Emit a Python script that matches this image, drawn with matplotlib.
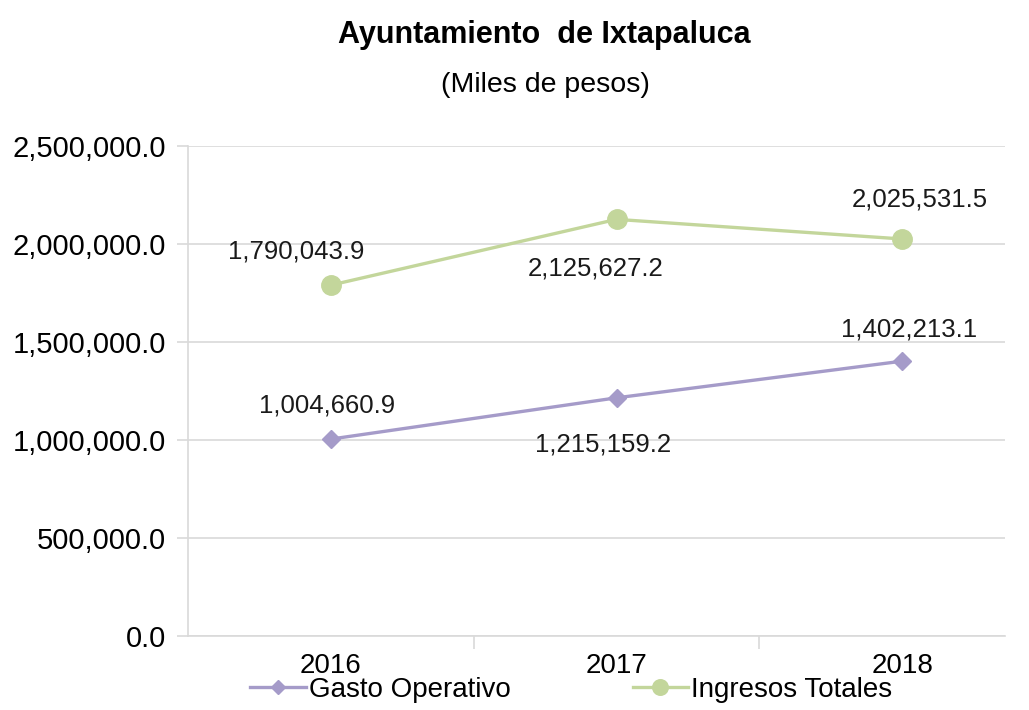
import numpy as np
import matplotlib.pyplot as plt
from matplotlib.ticker import FuncFormatter, FixedLocator

# ---------- DATA ----------
years = ["2016", "2017", "2018"]
gasto_operativo = [1004660.9, 1215159.2, 1402213.1]
ingresos_totales = [1790043.9, 2125627.2, 2025531.5]
# ---------------------------

# label offsets from the marker, in pixels (dx, dy)
gasto_lbl_off = [(-4, 34), (-13, -47), (7, 32)]
ingresos_lbl_off = [(-35, 34), (-21, -49), (18, 39)]

PURPLE = "#A59BC9"
GREEN = "#C3D69B"
GRID = "#D9D9D9"
FONT = "Liberation Sans"

plt.rcParams["font.family"] = [FONT, "DejaVu Sans"]

fig = plt.figure(figsize=(10.29, 7.10), dpi=100)
ax = fig.add_axes([0.1827, 0.1042, 0.7940, 0.6902])

x = np.arange(len(years))
ax.plot(x, gasto_operativo, color=PURPLE, lw=2.4, marker="D", ms=9,
        label="Gasto Operativo", zorder=3)
ax.plot(x, ingresos_totales, color=GREEN, lw=2.4, marker="o", ms=14,
        label="Ingresos Totales", zorder=3)

def fmt(v):
    return f"{v:,.1f}"

for xi, v, (dx, dy) in zip(x, gasto_operativo, gasto_lbl_off):
    ax.annotate(fmt(v), (xi, v), xytext=(dx, dy), textcoords="offset pixels",
                ha="center", va="center", fontsize=18.5, color="#1a1a1a")
for xi, v, (dx, dy) in zip(x, ingresos_totales, ingresos_lbl_off):
    ax.annotate(fmt(v), (xi, v), xytext=(dx, dy), textcoords="offset pixels",
                ha="center", va="center", fontsize=18.5, color="#1a1a1a")

ax.set_ylim(0, 2500000)
ax.set_xlim(-0.5, 2.36)
ax.set_yticks(np.arange(0, 2500001, 500000))
ax.yaxis.set_major_formatter(FuncFormatter(lambda v, _: f"{v:,.1f}"))
ax.set_xticks(x)
ax.set_xticklabels(years)
ax.xaxis.set_minor_locator(FixedLocator([0.5, 1.5]))
ax.tick_params(axis="x", which="major", length=0, labelsize=20, pad=12)
ax.tick_params(axis="x", which="minor", length=9, color=GRID, width=1.2)
ax.tick_params(axis="y", length=8, color=GRID, width=1.2, labelsize=21, pad=8)

ax.grid(axis="y", color=GRID, lw=1.2)
ax.set_axisbelow(True)
for s in ["top", "right"]:
    ax.spines[s].set_visible(False)
for s in ["left", "bottom"]:
    ax.spines[s].set_color(GRID)
    ax.spines[s].set_linewidth(1.2)

fig.text(0.529, 0.951, "Ayuntamiento  de Ixtapaluca", ha="center", va="center",
         fontsize=22, fontweight="bold")
fig.text(0.530, 0.880, "(Miles de pesos)", ha="center", va="center", fontsize=20.5)

fig.legend(loc="center", bbox_to_anchor=(0.555, 0.028), ncol=2, frameon=False,
           fontsize=20, handlelength=2.0, columnspacing=4.4, handletextpad=0.1,
           markerscale=0.8)

fig.savefig("out.png", dpi=100)
